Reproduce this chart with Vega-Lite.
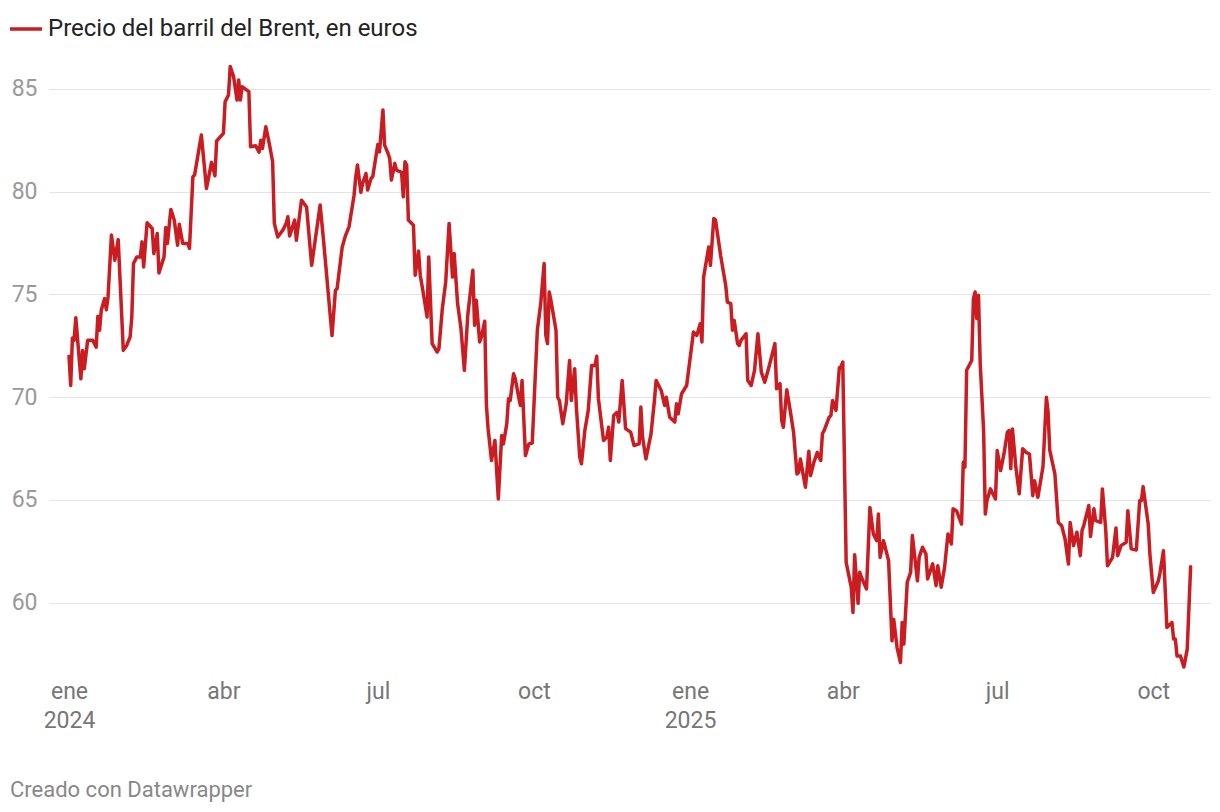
{
  "$schema": "https://vega.github.io/schema/vega-lite/v6.json",
  "autosize": {"type": "none"},
  "width": 1161,
  "height": 612,
  "padding": {"left": 49, "top": 60, "right": 10, "bottom": 140},
  "background": "#ffffff",
  "config": {
    "view": {"stroke": null},
    "font": "Roboto"
  },
  "title": {
    "text": "Creado con Datawrapper",
    "orient": "bottom",
    "anchor": "start",
    "frame": "group",
    "dx": -39,
    "offset": 48,
    "fontSize": 22,
    "font": "Roboto",
    "fontWeight": "normal",
    "color": "#888888"
  },
  "data": {
    "values": [
      {"fecha": "2024-01-01", "precio": 72.0},
      {"fecha": "2024-01-02", "precio": 70.57},
      {"fecha": "2024-01-03", "precio": 72.88},
      {"fecha": "2024-01-04", "precio": 72.77},
      {"fecha": "2024-01-05", "precio": 73.87},
      {"fecha": "2024-01-08", "precio": 70.9},
      {"fecha": "2024-01-09", "precio": 72.28},
      {"fecha": "2024-01-10", "precio": 71.39},
      {"fecha": "2024-01-12", "precio": 72.77},
      {"fecha": "2024-01-15", "precio": 72.77},
      {"fecha": "2024-01-17", "precio": 72.44},
      {"fecha": "2024-01-18", "precio": 73.94},
      {"fecha": "2024-01-19", "precio": 73.26},
      {"fecha": "2024-01-20", "precio": 74.23},
      {"fecha": "2024-01-22", "precio": 74.8},
      {"fecha": "2024-01-23", "precio": 74.26},
      {"fecha": "2024-01-24", "precio": 74.88},
      {"fecha": "2024-01-26", "precio": 77.89},
      {"fecha": "2024-01-28", "precio": 76.67},
      {"fecha": "2024-01-30", "precio": 77.67},
      {"fecha": "2024-02-02", "precio": 72.28},
      {"fecha": "2024-02-04", "precio": 72.52},
      {"fecha": "2024-02-06", "precio": 72.93},
      {"fecha": "2024-02-07", "precio": 73.9},
      {"fecha": "2024-02-08", "precio": 76.51},
      {"fecha": "2024-02-10", "precio": 76.83},
      {"fecha": "2024-02-12", "precio": 76.83},
      {"fecha": "2024-02-13", "precio": 77.56},
      {"fecha": "2024-02-14", "precio": 76.34},
      {"fecha": "2024-02-16", "precio": 78.49},
      {"fecha": "2024-02-19", "precio": 78.21},
      {"fecha": "2024-02-20", "precio": 76.99},
      {"fecha": "2024-02-22", "precio": 77.97},
      {"fecha": "2024-02-23", "precio": 76.05},
      {"fecha": "2024-02-26", "precio": 76.83},
      {"fecha": "2024-02-27", "precio": 78.26},
      {"fecha": "2024-02-28", "precio": 77.48},
      {"fecha": "2024-03-01", "precio": 79.14},
      {"fecha": "2024-03-03", "precio": 78.62},
      {"fecha": "2024-03-05", "precio": 77.4},
      {"fecha": "2024-03-06", "precio": 78.42},
      {"fecha": "2024-03-08", "precio": 77.48},
      {"fecha": "2024-03-11", "precio": 77.48},
      {"fecha": "2024-03-12", "precio": 77.24},
      {"fecha": "2024-03-14", "precio": 80.73},
      {"fecha": "2024-03-15", "precio": 80.81},
      {"fecha": "2024-03-19", "precio": 82.76},
      {"fecha": "2024-03-22", "precio": 80.16},
      {"fecha": "2024-03-25", "precio": 81.43},
      {"fecha": "2024-03-27", "precio": 80.78},
      {"fecha": "2024-03-28", "precio": 82.47},
      {"fecha": "2024-04-01", "precio": 82.84},
      {"fecha": "2024-04-02", "precio": 84.38},
      {"fecha": "2024-04-04", "precio": 84.71},
      {"fecha": "2024-04-05", "precio": 86.09},
      {"fecha": "2024-04-07", "precio": 85.6},
      {"fecha": "2024-04-09", "precio": 84.46},
      {"fecha": "2024-04-10", "precio": 85.44},
      {"fecha": "2024-04-11", "precio": 84.46},
      {"fecha": "2024-04-12", "precio": 85.11},
      {"fecha": "2024-04-16", "precio": 84.87},
      {"fecha": "2024-04-17", "precio": 82.19},
      {"fecha": "2024-04-20", "precio": 82.24},
      {"fecha": "2024-04-22", "precio": 81.92},
      {"fecha": "2024-04-23", "precio": 82.51},
      {"fecha": "2024-04-24", "precio": 82.11},
      {"fecha": "2024-04-26", "precio": 83.16},
      {"fecha": "2024-04-28", "precio": 82.35},
      {"fecha": "2024-04-30", "precio": 81.46},
      {"fecha": "2024-05-01", "precio": 78.46},
      {"fecha": "2024-05-03", "precio": 77.8},
      {"fecha": "2024-05-06", "precio": 78.13},
      {"fecha": "2024-05-08", "precio": 78.46},
      {"fecha": "2024-05-09", "precio": 78.78},
      {"fecha": "2024-05-10", "precio": 77.85},
      {"fecha": "2024-05-13", "precio": 78.62},
      {"fecha": "2024-05-14", "precio": 77.64},
      {"fecha": "2024-05-17", "precio": 79.59},
      {"fecha": "2024-05-20", "precio": 79.26},
      {"fecha": "2024-05-23", "precio": 76.42},
      {"fecha": "2024-05-28", "precio": 79.35},
      {"fecha": "2024-05-30", "precio": 77.64},
      {"fecha": "2024-06-04", "precio": 73.0},
      {"fecha": "2024-06-06", "precio": 75.2},
      {"fecha": "2024-06-07", "precio": 75.29},
      {"fecha": "2024-06-10", "precio": 77.31},
      {"fecha": "2024-06-12", "precio": 77.88},
      {"fecha": "2024-06-14", "precio": 78.29},
      {"fecha": "2024-06-17", "precio": 79.83},
      {"fecha": "2024-06-18", "precio": 80.73},
      {"fecha": "2024-06-19", "precio": 81.3},
      {"fecha": "2024-06-21", "precio": 79.97},
      {"fecha": "2024-06-22", "precio": 80.4},
      {"fecha": "2024-06-24", "precio": 80.89},
      {"fecha": "2024-06-25", "precio": 80.08},
      {"fecha": "2024-06-27", "precio": 80.65},
      {"fecha": "2024-06-28", "precio": 80.73},
      {"fecha": "2024-07-01", "precio": 82.3},
      {"fecha": "2024-07-02", "precio": 81.94},
      {"fecha": "2024-07-04", "precio": 83.98},
      {"fecha": "2024-07-05", "precio": 82.27},
      {"fecha": "2024-07-07", "precio": 81.87},
      {"fecha": "2024-07-08", "precio": 81.62},
      {"fecha": "2024-07-09", "precio": 80.57},
      {"fecha": "2024-07-11", "precio": 81.38},
      {"fecha": "2024-07-12", "precio": 81.05},
      {"fecha": "2024-07-15", "precio": 80.94},
      {"fecha": "2024-07-16", "precio": 79.75},
      {"fecha": "2024-07-17", "precio": 81.46},
      {"fecha": "2024-07-18", "precio": 81.3},
      {"fecha": "2024-07-19", "precio": 78.62},
      {"fecha": "2024-07-22", "precio": 78.37},
      {"fecha": "2024-07-23", "precio": 75.94},
      {"fecha": "2024-07-25", "precio": 77.11},
      {"fecha": "2024-07-26", "precio": 75.94},
      {"fecha": "2024-07-28", "precio": 74.96},
      {"fecha": "2024-07-30", "precio": 73.9},
      {"fecha": "2024-07-31", "precio": 76.83},
      {"fecha": "2024-08-02", "precio": 72.61},
      {"fecha": "2024-08-05", "precio": 72.2},
      {"fecha": "2024-08-06", "precio": 72.36},
      {"fecha": "2024-08-08", "precio": 74.31},
      {"fecha": "2024-08-10", "precio": 75.61},
      {"fecha": "2024-08-12", "precio": 78.46},
      {"fecha": "2024-08-14", "precio": 75.85},
      {"fecha": "2024-08-15", "precio": 76.99},
      {"fecha": "2024-08-17", "precio": 74.56},
      {"fecha": "2024-08-19", "precio": 73.34},
      {"fecha": "2024-08-21", "precio": 71.31},
      {"fecha": "2024-08-23", "precio": 73.99},
      {"fecha": "2024-08-26", "precio": 76.18},
      {"fecha": "2024-08-27", "precio": 73.5},
      {"fecha": "2024-08-28", "precio": 74.72},
      {"fecha": "2024-08-30", "precio": 72.69},
      {"fecha": "2024-08-31", "precio": 72.93},
      {"fecha": "2024-09-02", "precio": 73.7},
      {"fecha": "2024-09-03", "precio": 69.6},
      {"fecha": "2024-09-04", "precio": 68.46},
      {"fecha": "2024-09-06", "precio": 66.92},
      {"fecha": "2024-09-07", "precio": 67.41},
      {"fecha": "2024-09-08", "precio": 67.9},
      {"fecha": "2024-09-10", "precio": 65.05},
      {"fecha": "2024-09-12", "precio": 68.14},
      {"fecha": "2024-09-13", "precio": 67.73},
      {"fecha": "2024-09-15", "precio": 68.71},
      {"fecha": "2024-09-16", "precio": 69.93},
      {"fecha": "2024-09-17", "precio": 69.84},
      {"fecha": "2024-09-19", "precio": 71.14},
      {"fecha": "2024-09-20", "precio": 70.9},
      {"fecha": "2024-09-22", "precio": 70.0},
      {"fecha": "2024-09-23", "precio": 69.6},
      {"fecha": "2024-09-24", "precio": 70.82},
      {"fecha": "2024-09-26", "precio": 67.16},
      {"fecha": "2024-09-28", "precio": 67.73},
      {"fecha": "2024-09-30", "precio": 67.77},
      {"fecha": "2024-10-01", "precio": 69.6},
      {"fecha": "2024-10-03", "precio": 73.26},
      {"fecha": "2024-10-05", "precio": 74.56},
      {"fecha": "2024-10-07", "precio": 76.51},
      {"fecha": "2024-10-08", "precio": 73.01},
      {"fecha": "2024-10-09", "precio": 72.61},
      {"fecha": "2024-10-10", "precio": 75.12},
      {"fecha": "2024-10-11", "precio": 74.72},
      {"fecha": "2024-10-14", "precio": 73.26},
      {"fecha": "2024-10-15", "precio": 70.0},
      {"fecha": "2024-10-16", "precio": 69.84},
      {"fecha": "2024-10-18", "precio": 68.71},
      {"fecha": "2024-10-20", "precio": 69.68},
      {"fecha": "2024-10-22", "precio": 71.79},
      {"fecha": "2024-10-23", "precio": 69.84},
      {"fecha": "2024-10-25", "precio": 71.39},
      {"fecha": "2024-10-26", "precio": 69.52},
      {"fecha": "2024-10-28", "precio": 67.09},
      {"fecha": "2024-10-29", "precio": 66.76},
      {"fecha": "2024-10-31", "precio": 68.38},
      {"fecha": "2024-11-02", "precio": 69.36},
      {"fecha": "2024-11-04", "precio": 71.55},
      {"fecha": "2024-11-06", "precio": 71.55},
      {"fecha": "2024-11-07", "precio": 71.99},
      {"fecha": "2024-11-08", "precio": 69.93},
      {"fecha": "2024-11-11", "precio": 67.9},
      {"fecha": "2024-11-13", "precio": 68.06},
      {"fecha": "2024-11-14", "precio": 68.54},
      {"fecha": "2024-11-15", "precio": 66.92},
      {"fecha": "2024-11-17", "precio": 69.11},
      {"fecha": "2024-11-19", "precio": 69.27},
      {"fecha": "2024-11-20", "precio": 68.79},
      {"fecha": "2024-11-22", "precio": 70.82},
      {"fecha": "2024-11-24", "precio": 68.47},
      {"fecha": "2024-11-27", "precio": 68.3},
      {"fecha": "2024-11-29", "precio": 67.65},
      {"fecha": "2024-12-02", "precio": 67.73},
      {"fecha": "2024-12-03", "precio": 69.52},
      {"fecha": "2024-12-04", "precio": 68.06},
      {"fecha": "2024-12-06", "precio": 67.0},
      {"fecha": "2024-12-09", "precio": 68.22},
      {"fecha": "2024-12-11", "precio": 69.84},
      {"fecha": "2024-12-12", "precio": 70.82},
      {"fecha": "2024-12-15", "precio": 70.33},
      {"fecha": "2024-12-17", "precio": 69.6},
      {"fecha": "2024-12-18", "precio": 70.0},
      {"fecha": "2024-12-20", "precio": 69.03},
      {"fecha": "2024-12-23", "precio": 68.79},
      {"fecha": "2024-12-24", "precio": 69.68},
      {"fecha": "2024-12-25", "precio": 69.19},
      {"fecha": "2024-12-27", "precio": 70.17},
      {"fecha": "2024-12-30", "precio": 70.57},
      {"fecha": "2025-01-03", "precio": 73.17},
      {"fecha": "2025-01-05", "precio": 73.01},
      {"fecha": "2025-01-07", "precio": 73.58},
      {"fecha": "2025-01-08", "precio": 72.69},
      {"fecha": "2025-01-09", "precio": 75.85},
      {"fecha": "2025-01-12", "precio": 77.31},
      {"fecha": "2025-01-13", "precio": 76.42},
      {"fecha": "2025-01-15", "precio": 78.7},
      {"fecha": "2025-01-16", "precio": 78.62},
      {"fecha": "2025-01-19", "precio": 76.91},
      {"fecha": "2025-01-22", "precio": 75.45},
      {"fecha": "2025-01-23", "precio": 74.63},
      {"fecha": "2025-01-25", "precio": 74.56},
      {"fecha": "2025-01-26", "precio": 73.26},
      {"fecha": "2025-01-27", "precio": 73.74},
      {"fecha": "2025-01-29", "precio": 72.61},
      {"fecha": "2025-01-30", "precio": 72.52},
      {"fecha": "2025-01-31", "precio": 72.77},
      {"fecha": "2025-02-03", "precio": 73.09},
      {"fecha": "2025-02-04", "precio": 70.82},
      {"fecha": "2025-02-06", "precio": 70.57},
      {"fecha": "2025-02-08", "precio": 71.31},
      {"fecha": "2025-02-10", "precio": 73.09},
      {"fecha": "2025-02-12", "precio": 71.22},
      {"fecha": "2025-02-14", "precio": 70.73},
      {"fecha": "2025-02-16", "precio": 71.31},
      {"fecha": "2025-02-20", "precio": 72.61},
      {"fecha": "2025-02-21", "precio": 70.41},
      {"fecha": "2025-02-23", "precio": 70.66},
      {"fecha": "2025-02-24", "precio": 68.87},
      {"fecha": "2025-02-25", "precio": 68.54},
      {"fecha": "2025-02-27", "precio": 70.36},
      {"fecha": "2025-03-01", "precio": 69.36},
      {"fecha": "2025-03-03", "precio": 68.3},
      {"fecha": "2025-03-05", "precio": 66.27},
      {"fecha": "2025-03-06", "precio": 66.35},
      {"fecha": "2025-03-07", "precio": 67.0},
      {"fecha": "2025-03-10", "precio": 65.62},
      {"fecha": "2025-03-12", "precio": 67.37},
      {"fecha": "2025-03-13", "precio": 66.19},
      {"fecha": "2025-03-15", "precio": 66.84},
      {"fecha": "2025-03-17", "precio": 67.32},
      {"fecha": "2025-03-19", "precio": 66.92},
      {"fecha": "2025-03-20", "precio": 68.22},
      {"fecha": "2025-03-21", "precio": 68.38},
      {"fecha": "2025-03-24", "precio": 69.03},
      {"fecha": "2025-03-25", "precio": 69.11},
      {"fecha": "2025-03-26", "precio": 69.84},
      {"fecha": "2025-03-28", "precio": 69.36},
      {"fecha": "2025-03-30", "precio": 71.44},
      {"fecha": "2025-03-31", "precio": 71.5},
      {"fecha": "2025-04-01", "precio": 71.71},
      {"fecha": "2025-04-03", "precio": 61.96},
      {"fecha": "2025-04-06", "precio": 60.75},
      {"fecha": "2025-04-07", "precio": 59.53},
      {"fecha": "2025-04-08", "precio": 62.34},
      {"fecha": "2025-04-10", "precio": 59.97},
      {"fecha": "2025-04-11", "precio": 61.48},
      {"fecha": "2025-04-12", "precio": 61.24},
      {"fecha": "2025-04-15", "precio": 60.67},
      {"fecha": "2025-04-17", "precio": 64.64},
      {"fecha": "2025-04-19", "precio": 63.35},
      {"fecha": "2025-04-21", "precio": 63.02},
      {"fecha": "2025-04-22", "precio": 64.32},
      {"fecha": "2025-04-23", "precio": 62.21},
      {"fecha": "2025-04-25", "precio": 63.02},
      {"fecha": "2025-04-28", "precio": 62.05},
      {"fecha": "2025-04-30", "precio": 58.15},
      {"fecha": "2025-05-01", "precio": 59.2},
      {"fecha": "2025-05-03", "precio": 57.82},
      {"fecha": "2025-05-05", "precio": 57.09},
      {"fecha": "2025-05-06", "precio": 59.04},
      {"fecha": "2025-05-07", "precio": 57.99},
      {"fecha": "2025-05-09", "precio": 61.0},
      {"fecha": "2025-05-11", "precio": 61.48},
      {"fecha": "2025-05-12", "precio": 63.27},
      {"fecha": "2025-05-15", "precio": 61.07},
      {"fecha": "2025-05-16", "precio": 62.21},
      {"fecha": "2025-05-18", "precio": 62.7},
      {"fecha": "2025-05-20", "precio": 62.38},
      {"fecha": "2025-05-21", "precio": 61.16},
      {"fecha": "2025-05-24", "precio": 61.89},
      {"fecha": "2025-05-26", "precio": 60.83},
      {"fecha": "2025-05-27", "precio": 61.8},
      {"fecha": "2025-05-29", "precio": 60.75},
      {"fecha": "2025-05-31", "precio": 61.72},
      {"fecha": "2025-06-02", "precio": 63.35},
      {"fecha": "2025-06-04", "precio": 62.86},
      {"fecha": "2025-06-05", "precio": 64.57},
      {"fecha": "2025-06-07", "precio": 64.48},
      {"fecha": "2025-06-10", "precio": 63.83},
      {"fecha": "2025-06-11", "precio": 66.84},
      {"fecha": "2025-06-12", "precio": 66.6},
      {"fecha": "2025-06-13", "precio": 71.31},
      {"fecha": "2025-06-16", "precio": 71.79},
      {"fecha": "2025-06-17", "precio": 74.8},
      {"fecha": "2025-06-18", "precio": 75.12},
      {"fecha": "2025-06-19", "precio": 73.83},
      {"fecha": "2025-06-20", "precio": 74.96},
      {"fecha": "2025-06-21", "precio": 71.63},
      {"fecha": "2025-06-23", "precio": 68.38},
      {"fecha": "2025-06-24", "precio": 64.32},
      {"fecha": "2025-06-25", "precio": 64.97},
      {"fecha": "2025-06-27", "precio": 65.54},
      {"fecha": "2025-06-30", "precio": 65.05},
      {"fecha": "2025-07-01", "precio": 67.41},
      {"fecha": "2025-07-03", "precio": 66.43},
      {"fecha": "2025-07-05", "precio": 67.24},
      {"fecha": "2025-07-07", "precio": 68.3},
      {"fecha": "2025-07-08", "precio": 68.38},
      {"fecha": "2025-07-09", "precio": 66.52},
      {"fecha": "2025-07-10", "precio": 68.46},
      {"fecha": "2025-07-12", "precio": 66.6},
      {"fecha": "2025-07-14", "precio": 65.3},
      {"fecha": "2025-07-16", "precio": 67.49},
      {"fecha": "2025-07-18", "precio": 67.32},
      {"fecha": "2025-07-20", "precio": 67.24},
      {"fecha": "2025-07-22", "precio": 65.21},
      {"fecha": "2025-07-23", "precio": 65.94},
      {"fecha": "2025-07-25", "precio": 65.13},
      {"fecha": "2025-07-28", "precio": 66.63},
      {"fecha": "2025-07-30", "precio": 70.0},
      {"fecha": "2025-07-31", "precio": 69.27},
      {"fecha": "2025-08-01", "precio": 67.41},
      {"fecha": "2025-08-04", "precio": 66.27},
      {"fecha": "2025-08-06", "precio": 63.91},
      {"fecha": "2025-08-08", "precio": 63.75},
      {"fecha": "2025-08-10", "precio": 63.1},
      {"fecha": "2025-08-12", "precio": 61.89},
      {"fecha": "2025-08-13", "precio": 63.91},
      {"fecha": "2025-08-15", "precio": 62.78},
      {"fecha": "2025-08-17", "precio": 63.43},
      {"fecha": "2025-08-19", "precio": 62.29},
      {"fecha": "2025-08-20", "precio": 63.51},
      {"fecha": "2025-08-21", "precio": 63.75},
      {"fecha": "2025-08-24", "precio": 64.73},
      {"fecha": "2025-08-25", "precio": 63.22},
      {"fecha": "2025-08-27", "precio": 64.57},
      {"fecha": "2025-08-28", "precio": 64.0},
      {"fecha": "2025-08-31", "precio": 63.91},
      {"fecha": "2025-09-01", "precio": 65.54},
      {"fecha": "2025-09-03", "precio": 63.51},
      {"fecha": "2025-09-04", "precio": 61.8},
      {"fecha": "2025-09-07", "precio": 62.21},
      {"fecha": "2025-09-09", "precio": 63.64},
      {"fecha": "2025-09-10", "precio": 62.29},
      {"fecha": "2025-09-12", "precio": 62.78},
      {"fecha": "2025-09-15", "precio": 62.94},
      {"fecha": "2025-09-16", "precio": 64.48},
      {"fecha": "2025-09-18", "precio": 62.62},
      {"fecha": "2025-09-21", "precio": 62.57},
      {"fecha": "2025-09-23", "precio": 64.97},
      {"fecha": "2025-09-24", "precio": 64.97},
      {"fecha": "2025-09-25", "precio": 65.65},
      {"fecha": "2025-09-28", "precio": 63.83},
      {"fecha": "2025-09-29", "precio": 62.37},
      {"fecha": "2025-10-01", "precio": 60.5},
      {"fecha": "2025-10-04", "precio": 61.07},
      {"fecha": "2025-10-05", "precio": 61.48},
      {"fecha": "2025-10-07", "precio": 62.53},
      {"fecha": "2025-10-09", "precio": 58.8},
      {"fecha": "2025-10-12", "precio": 59.04},
      {"fecha": "2025-10-13", "precio": 58.23},
      {"fecha": "2025-10-14", "precio": 58.23},
      {"fecha": "2025-10-15", "precio": 57.41},
      {"fecha": "2025-10-17", "precio": 57.41},
      {"fecha": "2025-10-19", "precio": 56.87},
      {"fecha": "2025-10-21", "precio": 57.74},
      {"fecha": "2025-10-23", "precio": 61.75}
    ]
  },
  "mark": {"type": "line", "strokeWidth": 3.5, "strokeJoin": "round", "strokeCap": "round"},
  "encoding": {
    "x": {
      "field": "fecha",
      "type": "temporal",
      "scale": {
        "type": "utc",
        "domain": [
          {"year": 2023, "month": 12, "date": 20, "hours": 5, "utc": true},
          {"year": 2025, "month": 11, "date": 3, "hours": 10, "utc": true}
        ]
      },
      "axis": {
        "title": null,
        "grid": false,
        "domain": false,
        "ticks": false,
        "values": [
          {"year": 2024, "month": 1, "date": 1, "utc": true},
          {"year": 2024, "month": 4, "date": 1, "utc": true},
          {"year": 2024, "month": 7, "date": 1, "utc": true},
          {"year": 2024, "month": 10, "date": 1, "utc": true},
          {"year": 2025, "month": 1, "date": 1, "utc": true},
          {"year": 2025, "month": 4, "date": 1, "utc": true},
          {"year": 2025, "month": 7, "date": 1, "utc": true},
          {"year": 2025, "month": 10, "date": 1, "utc": true}
        ],
        "labelExpr": "utcmonth(datum.value) == 0 ? ['ene', '' + utcyear(datum.value)] : ['ene','feb','mar','abr','may','jun','jul','ago','sep','oct','nov','dic'][utcmonth(datum.value)]",
        "labelFont": "Roboto",
        "labelFontSize": 23,
        "labelColor": "#777777",
        "labelLineHeight": 29,
        "labelPadding": 8,
        "labelOverlap": false,
        "labelFlush": false
      }
    },
    "y": {
      "field": "precio",
      "type": "quantitative",
      "scale": {"domain": [56.63, 86.41], "nice": false, "zero": false},
      "axis": {
        "title": null,
        "values": [60, 65, 70, 75, 80, 85],
        "grid": true,
        "gridColor": "#e3e3e3",
        "gridWidth": 1,
        "domain": false,
        "ticks": false,
        "labelFont": "Roboto",
        "labelFontSize": 23,
        "labelColor": "#999999",
        "labelPadding": 12
      }
    },
    "color": {
      "datum": "Precio del barril del Brent, en euros",
      "scale": {"range": ["#c91d22"]},
      "legend": {
        "title": null,
        "orient": "none",
        "legendX": -41,
        "legendY": -49,
        "symbolType": "stroke",
        "symbolSize": 1024,
        "symbolStrokeWidth": 3.5,
        "labelFont": "Roboto",
        "labelFontSize": 24,
        "labelColor": "#222222",
        "labelOffset": 4,
        "labelLimit": 600
      }
    }
  }
}
